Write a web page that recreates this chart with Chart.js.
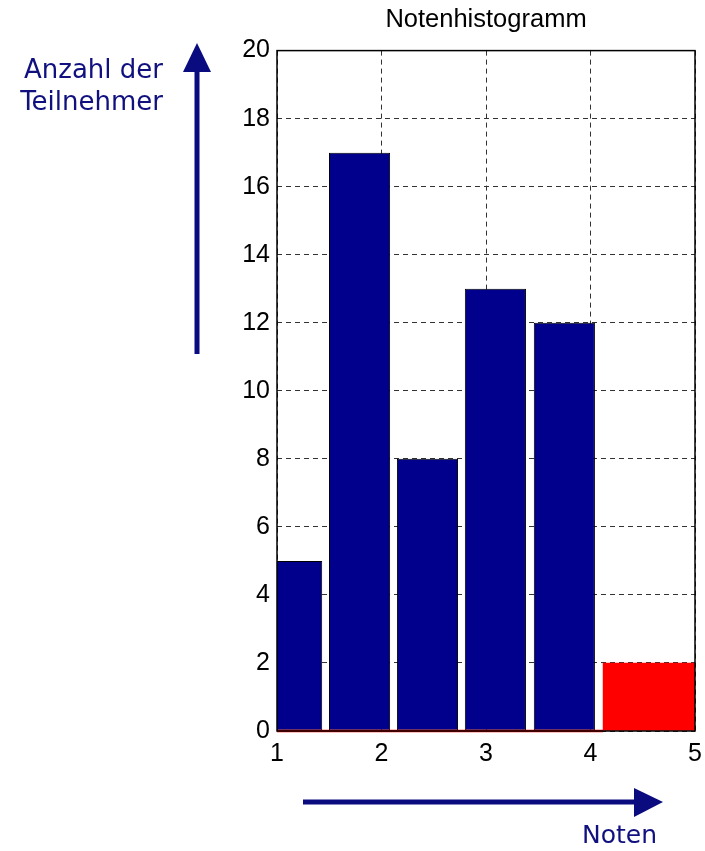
<!DOCTYPE html>
<html lang="de">
<head>
    <meta charset="UTF-8">
    <title>Notenhistogramm</title>
    <style>
        html, body {
            margin: 0;
            padding: 0;
            background: #fff;
        }
        .page {
            position: relative;
            width: 705px;
            height: 851px;
            overflow: hidden;
        }
        #grafik {
            position: absolute;
            left: 0;
            top: 0;
        }
        .notiz {
            position: absolute;
            font-family: "DejaVu Sans", Verdana, sans-serif;
            color: #10107f;
            white-space: nowrap;
        }
        #yNotiz {
            left: 0;
            top: 53px;
            width: 163px;
            text-align: right;
            font-size: 26px;
            line-height: 32px;
        }
        #xNotiz {
            left: 582px;
            top: 820px;
            font-size: 25px;
            line-height: 30px;
        }
        svg.pfeile {
            position: absolute;
            left: 0;
            top: 0;
        }
    </style>
    <script src="https://cdn.jsdelivr.net/npm/chart.js"></script>
</head>
<body>
<div class="page">
    <canvas id="grafik" width="705" height="851"></canvas>

    <svg class="pfeile" width="705" height="851">
        <line x1="197" y1="354" x2="197" y2="70" stroke="#0b0b80" stroke-width="5"/>
        <polygon points="183,72 211,72 197,43" fill="#0b0b80"/>
        <line x1="303" y1="802" x2="636" y2="802" stroke="#0b0b80" stroke-width="5"/>
        <polygon points="634,788 634,817 663,802" fill="#0b0b80"/>
    </svg>

    <div class="notiz" id="yNotiz">Anzahl der<br>Teilnehmer</div>
    <div class="notiz" id="xNotiz">Noten</div>
</div>

<script>
    // Klassenmitten und Anzahl der Teilnehmer
    const klassenMitten = [1.14, 1.79, 2.44, 3.09, 3.75];
    const anzahl = [5, 17, 8, 13, 12];

    // durchgefallen (rot)
    const rotMitte = [4.58];
    const rotAnzahl = [2];

    // rote Nulllinie
    const linieX = [1, 4.12];
    const linieY = [0, 0];

    const xTicks = [1, 2, 3, 4, 5];
    const yTicks = [0, 2, 4, 6, 8, 10, 12, 14, 16, 18, 20];

    const schrift = "'Liberation Sans', Arial, Helvetica, sans-serif";

    // Rahmen um die Zeichenfläche
    const rahmen = {
        id: 'rahmen',
        afterDraw(chart) {
            const { ctx, chartArea: a } = chart;
            ctx.save();
            ctx.strokeStyle = '#000';
            ctx.lineWidth = 1.5;
            ctx.strokeRect(a.left, a.top, a.right - a.left, a.bottom - a.top);
            ctx.restore();
        }
    };

    const ctx = document.getElementById('grafik').getContext('2d');
    new Chart(ctx, {
        data: {
            datasets: [
                {
                    type: 'line',
                    data: linieX.map((x, i) => ({ x: x, y: linieY[i] })),
                    borderColor: '#ff0000',
                    borderWidth: 2.5,
                    pointRadius: 0,
                    clip: false,
                    order: 0
                },
                {
                    type: 'bar',
                    data: klassenMitten.map((x, i) => ({ x: x, y: anzahl[i] })),
                    backgroundColor: '#00008c',
                    borderColor: '#000000',
                    borderWidth: 1,
                    borderSkipped: false,
                    grouped: false,
                    categoryPercentage: 1,
                    barPercentage: 0.9,
                    order: 1
                },
                {
                    type: 'bar',
                    data: rotMitte.map((x, i) => ({ x: x, y: rotAnzahl[i] })),
                    backgroundColor: '#ff0000',
                    borderWidth: 0,
                    grouped: false,
                    barThickness: 96,
                    order: 1
                }
            ]
        },
        options: {
            responsive: false,
            animation: false,
            layout: {
                padding: { left: 237, right: 10, top: 0, bottom: 80 }
            },
            scales: {
                x: {
                    type: 'linear',
                    min: 1,
                    max: 5,
                    offset: false,
                    afterBuildTicks: s => { s.ticks = xTicks.map(v => ({ value: v })); },
                    afterFit: s => { s.height = 40; s.paddingLeft = 0; s.paddingRight = 0; },
                    grid: { color: '#333', lineWidth: 1, drawTicks: false, offset: false },
                    border: { display: false, dash: [5, 4] },
                    ticks: {
                        color: '#000',
                        padding: 8,
                        maxRotation: 0,
                        font: { family: schrift, size: 25 }
                    }
                },
                y: {
                    min: 0,
                    max: 20,
                    afterBuildTicks: s => { s.ticks = yTicks.map(v => ({ value: v })); },
                    afterFit: s => { s.width = 40; },
                    grid: { color: '#333', lineWidth: 1, drawTicks: false },
                    border: { display: false, dash: [5, 4] },
                    ticks: {
                        color: '#000',
                        padding: 7,
                        font: { family: schrift, size: 25 }
                    }
                }
            },
            plugins: {
                legend: { display: false },
                tooltip: { enabled: false },
                title: {
                    display: true,
                    fullSize: false,
                    text: 'Notenhistogramm',
                    color: '#000',
                    font: { family: schrift, size: 25.5, weight: 'normal' },
                    padding: { top: 5, bottom: 15 }
                }
            }
        },
        plugins: [rahmen]
    });
</script>
</body>
</html>
